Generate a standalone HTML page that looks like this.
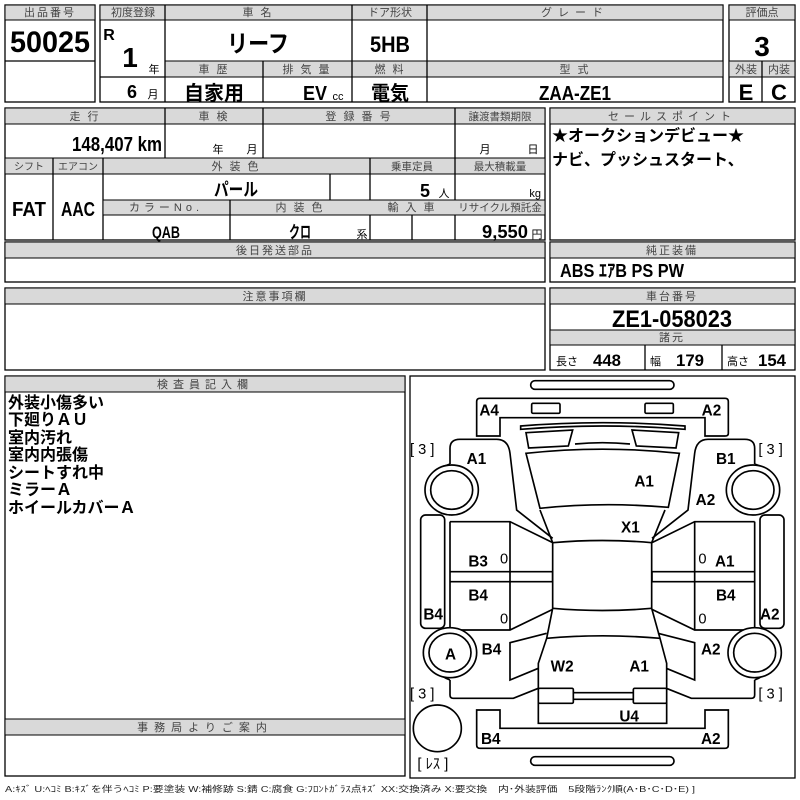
<!DOCTYPE html>
<html><head><meta charset="utf-8"><style>
body{margin:0;background:#fff}
svg{display:block}
.h{fill:#d9d9d9;stroke:#000;stroke-width:1}
.b{fill:none;stroke:#000;stroke-width:1.3}
.t{font-family:"Liberation Sans","Noto Sans CJK JP",sans-serif;font-size:11px;fill:#444;text-anchor:middle;letter-spacing:2px}
.v{font-family:"Liberation Sans","Noto Sans CJK JP",sans-serif;font-weight:bold;fill:#000;text-anchor:middle}
.s{font-family:"Liberation Sans","Noto Sans CJK JP",sans-serif;font-size:11px;fill:#000;text-anchor:middle}
.j{font-family:"Liberation Sans","Noto Sans CJK JP",sans-serif;font-weight:bold;font-size:16px;fill:#000}
.d{fill:#fff;stroke:#000;stroke-width:5}
.dl{fill:none;stroke:#000;stroke-width:5}
.dt{font-family:"Liberation Sans","Noto Sans CJK JP",sans-serif;font-weight:bold;font-size:46px;fill:#000}
.db{font-family:"Liberation Sans","Noto Sans CJK JP",sans-serif;font-size:44px;fill:#000}
</style></head><body>
<svg width="800" height="800" viewBox="0 0 800 800" xmlns="http://www.w3.org/2000/svg">
<!-- Box1 -->
<rect class="b" x="5" y="5" width="90" height="97"/>
<rect class="h" x="5" y="5" width="90" height="15"/>
<line class="b" x1="5" y1="61" x2="95" y2="61"/>
<text class="t" x="50" y="16">出品番号</text>
<text class="v" x="50" y="52" font-size="30" textLength="80" lengthAdjust="spacingAndGlyphs">50025</text>
<!-- Box2 -->
<rect class="b" x="100" y="5" width="623" height="97"/>
<rect class="h" x="100" y="5" width="623" height="15"/>
<rect class="h" x="165" y="61" width="558" height="16"/>
<line class="b" x1="165" y1="5" x2="165" y2="102"/>
<line class="b" x1="352" y1="5" x2="352" y2="102"/>
<line class="b" x1="427" y1="5" x2="427" y2="102"/>
<line class="b" x1="263" y1="61" x2="263" y2="102"/>
<line class="b" x1="100" y1="77" x2="165" y2="77"/>
<text class="t" x="133" y="16" style="letter-spacing:0">初度登録</text>
<text class="t" x="258" y="16">車 名</text>
<text class="t" x="390" y="16" style="letter-spacing:0">ドア形状</text>
<text class="t" x="575" y="16" style="letter-spacing:6px">グレード</text>
<text class="v" x="109" y="40" font-size="16">R</text>
<text class="v" x="130" y="67" font-size="28">1</text>
<text class="s" x="154" y="73">年</text>
<text class="v" x="132" y="98" font-size="18">6</text>
<text class="s" x="153" y="98">月</text>
<text class="v" x="258" y="52" font-size="24" textLength="62" lengthAdjust="spacingAndGlyphs">リーフ</text>
<text class="v" x="390" y="52" font-size="22" textLength="40" lengthAdjust="spacingAndGlyphs">5HB</text>
<text class="t" x="214" y="73">車 歴</text>
<text class="t" x="307" y="73">排 気 量</text>
<text class="t" x="390" y="73">燃 料</text>
<text class="t" x="575" y="73">型 式</text>
<text class="v" x="214" y="100" font-size="20" textLength="60" lengthAdjust="spacingAndGlyphs">自家用</text>
<text class="v" x="315" y="100" font-size="20" textLength="24" lengthAdjust="spacingAndGlyphs">EV</text>
<text class="s" x="338" y="100" font-size="10">cc</text>
<text class="v" x="390" y="100" font-size="20" textLength="38" lengthAdjust="spacingAndGlyphs">電気</text>
<text class="v" x="575" y="100" font-size="20" textLength="72" lengthAdjust="spacingAndGlyphs">ZAA-ZE1</text>
<!-- Box3 -->
<rect class="b" x="729" y="5" width="66" height="97"/>
<rect class="h" x="729" y="5" width="66" height="15"/>
<rect class="h" x="729" y="61" width="66" height="16"/>
<line class="b" x1="762" y1="61" x2="762" y2="102"/>
<text class="t" x="762" y="16" style="letter-spacing:0">評価点</text>
<text class="v" x="762" y="56" font-size="28">3</text>
<text class="t" x="746" y="73" style="letter-spacing:0">外装</text>
<text class="t" x="779" y="73" style="letter-spacing:0">内装</text>
<text class="v" x="746" y="100" font-size="22">E</text>
<text class="v" x="779" y="100" font-size="22">C</text>
<!-- Box4 -->
<rect class="b" x="5" y="108" width="540" height="132"/>
<rect class="h" x="5" y="108" width="540" height="16"/>
<line class="b" x1="165" y1="108" x2="165" y2="158"/>
<line class="b" x1="263" y1="108" x2="263" y2="158"/>
<line class="b" x1="455" y1="108" x2="455" y2="158"/>
<text class="t" x="85" y="120">走 行</text>
<text class="t" x="214" y="120">車 検</text>
<text class="t" x="359" y="120">登 録 番 号</text>
<text class="t" x="500" y="120" style="letter-spacing:0;font-size:10.5px">譲渡書類期限</text>
<text class="v" x="162" y="151" font-size="20" style="text-anchor:end" textLength="90" lengthAdjust="spacingAndGlyphs">148,407 km</text>
<text class="s" x="218" y="153">年</text>
<text class="s" x="252" y="153">月</text>
<text class="s" x="485" y="153">月</text>
<text class="s" x="533" y="153">日</text>
<rect class="h" x="5" y="158" width="540" height="16"/>
<line class="b" x1="53" y1="158" x2="53" y2="240"/>
<line class="b" x1="103" y1="158" x2="103" y2="240"/>
<line class="b" x1="370" y1="158" x2="370" y2="240"/>
<line class="b" x1="455" y1="158" x2="455" y2="240"/>
<line class="b" x1="330" y1="174" x2="330" y2="200"/>
<text class="t" x="29" y="170" style="letter-spacing:0;font-size:10px">シフト</text>
<text class="t" x="78" y="170" style="letter-spacing:0;font-size:10px">エアコン</text>
<text class="t" x="236" y="170">外 装 色</text>
<text class="t" x="412" y="170" style="letter-spacing:0;font-size:10.5px">乗車定員</text>
<text class="t" x="500" y="170" style="letter-spacing:0;font-size:10.5px">最大積載量</text>
<text class="v" x="236" y="196" font-size="18" textLength="44" lengthAdjust="spacingAndGlyphs">パール</text>
<text class="v" x="425" y="197" font-size="18">5</text>
<text class="s" x="444" y="197">人</text>
<text class="s" x="541" y="197" style="text-anchor:end">kg</text>
<rect class="h" x="103" y="200" width="442" height="15"/>
<line class="b" x1="230" y1="200" x2="230" y2="240"/>
<line class="b" x1="412" y1="215" x2="412" y2="240"/>
<text class="t" x="166" y="211" style="letter-spacing:4px">カラーNo.</text>
<text class="t" x="300" y="211">内 装 色</text>
<text class="t" x="412" y="211">輸 入 車</text>
<text class="t" x="500" y="211" style="letter-spacing:0;font-size:10.5px">リサイクル預託金</text>
<text class="v" x="166" y="238" font-size="17" textLength="28" lengthAdjust="spacingAndGlyphs">QAB</text>
<text class="v" x="300" y="238" font-size="17" textLength="22" lengthAdjust="spacingAndGlyphs">クロ</text>
<text class="s" x="362" y="238">系</text>
<text class="v" x="528" y="238" font-size="18" style="text-anchor:end" textLength="46" lengthAdjust="spacingAndGlyphs">9,550</text>
<text class="s" x="537" y="238">円</text>
<text class="v" x="29" y="216" font-size="20" textLength="34" lengthAdjust="spacingAndGlyphs">FAT</text>
<text class="v" x="78" y="216" font-size="20" textLength="34" lengthAdjust="spacingAndGlyphs">AAC</text>
<!-- Sales point -->
<rect class="b" x="550" y="108" width="245" height="132"/>
<rect class="h" x="550" y="108" width="245" height="16"/>
<text class="t" x="672" y="120" style="letter-spacing:5px">セールスポイント</text>
<text class="j" x="552" y="141" font-size="15">★オークションデビュー★</text>
<text class="j" x="552" y="165" font-size="15">ナビ、プッシュスタート、</text>
<!-- 後日 -->
<rect class="b" x="5" y="242" width="540" height="40"/>
<rect class="h" x="5" y="242" width="540" height="16"/>
<text class="t" x="275" y="254">後日発送部品</text>
<rect class="b" x="550" y="242" width="245" height="40"/>
<rect class="h" x="550" y="242" width="245" height="16"/>
<text class="t" x="672" y="254">純正装備</text>
<text class="v" x="560" y="277" font-size="18" style="text-anchor:start" textLength="124" lengthAdjust="spacingAndGlyphs">ABS ｴｱB PS PW</text>
<!-- 注意 -->
<rect class="b" x="5" y="288" width="540" height="82"/>
<rect class="h" x="5" y="288" width="540" height="16"/>
<text class="t" x="275" y="300">注意事項欄</text>
<rect class="b" x="550" y="288" width="245" height="82"/>
<rect class="h" x="550" y="288" width="245" height="16"/>
<rect class="h" x="550" y="330" width="245" height="15"/>
<line class="b" x1="645" y1="345" x2="645" y2="370"/>
<line class="b" x1="722" y1="345" x2="722" y2="370"/>
<text class="t" x="672" y="300">車台番号</text>
<text class="v" x="672" y="327" font-size="24" textLength="120" lengthAdjust="spacingAndGlyphs">ZE1-058023</text>
<text class="t" x="672" y="341">諸元</text>
<text class="s" x="556" y="365" style="text-anchor:start">長さ</text>
<text class="v" x="607" y="366" font-size="17" textLength="28" lengthAdjust="spacingAndGlyphs">448</text>
<text class="s" x="650" y="365" style="text-anchor:start">幅</text>
<text class="v" x="690" y="366" font-size="17" textLength="28" lengthAdjust="spacingAndGlyphs">179</text>
<text class="s" x="727" y="365" style="text-anchor:start">高さ</text>
<text class="v" x="772" y="366" font-size="17" textLength="28" lengthAdjust="spacingAndGlyphs">154</text>
<!-- inspector -->
<rect class="b" x="5" y="376" width="400" height="400"/>
<rect class="h" x="5" y="376" width="400" height="16"/>
<text class="t" x="205" y="388" style="letter-spacing:5px">検査員記入欄</text>
<text class="j" x="8" y="408">外装小傷多い</text>
<text class="j" x="8" y="425">下廻りＡＵ</text>
<text class="j" x="8" y="443">室内汚れ</text>
<text class="j" x="8" y="460">室内内張傷</text>
<text class="j" x="8" y="478">シートすれ中</text>
<text class="j" x="8" y="495">ミラーＡ</text>
<text class="j" x="8" y="513">ホイールカバーＡ</text>
<rect class="h" x="5" y="719" width="400" height="16"/>
<text class="t" x="205" y="731" style="letter-spacing:6px">事務局よりご案内</text>
<!-- diagram -->
<rect class="b" x="410" y="376" width="385" height="402"/>
<g transform="translate(400,370) scale(0.33333)">
<rect class="d" x="392" y="32" width="430" height="26" rx="13"/>
<rect class="d" x="392" y="1160" width="430" height="26" rx="13"/>
<path class="d" d="M230,198 L230,95 Q230,85 240,85 L975,85 Q985,85 985,95 L985,190 Q985,198 975,198 L915,198 L915,143 L300,143 L300,198 Z"/>
<path class="d" d="M230,1020 L300,1020 L300,1075 L915,1075 L915,1020 L985,1020 L985,1125 Q985,1135 975,1135 L240,1135 Q230,1135 230,1125 Z"/>
<rect class="d" x="395" y="100" width="85" height="30" rx="4"/>
<rect class="d" x="735" y="100" width="85" height="30" rx="4"/>
<path class="d" d="M362,168 Q607,148 855,168 L855,178 Q607,158 362,178 Z"/>
<path class="d" d="M378,188 L518,180 L505,228 L386,234 Z"/>
<path class="d" d="M696,180 L836,188 L828,234 L709,228 Z"/>
<path class="dl" d="M525,222 Q607,214 690,222"/>
<path class="d" d="M378,250 Q607,225 838,250 L805,412 Q607,395 420,415 Z"/>
<path class="dl" d="M420,420 L458,518 L458,715 L440,805 L415,880 L415,1060 L800,1060 L800,880 L780,805 L755,715 L755,518 L795,420"/>
<path class="dl" d="M458,518 Q607,505 755,518 M458,715 Q607,728 755,715 M440,805 Q607,790 780,805"/>
<rect class="d" x="415" y="955" width="105" height="45" rx="4"/>
<rect class="d" x="700" y="955" width="100" height="45" rx="4"/>
<path class="dl" d="M520,968 L700,968 M520,988 L700,988"/>
<g id="side">
<path class="dl" d="M150,282 L150,235 Q150,208 180,208 L290,208 Q325,208 330,250 L350,420 L458,505"/>
<path class="dl" d="M150,282 A85,80 0 0 0 150,435"/>
<path class="dl" d="M150,455 L330,455 L458,518 M150,455 L150,780 L330,780 L458,718 M150,605 L458,605 L458,635 L150,635 M330,455 L330,780"/>
<rect class="d" x="62" y="435" width="72" height="340" rx="15"/>
<path class="dl" d="M440,790 L330,818 L330,930 L415,895"/>
<path class="dl" d="M150,930 L150,975 Q150,985 160,985 L340,985 L415,955"/>
<path class="dl" d="M150,780 A85,80 0 0 0 150,930"/>
<ellipse class="d" cx="155" cy="360" rx="80" ry="75"/>
<ellipse class="d" cx="155" cy="360" rx="63" ry="58"/>
<ellipse class="d" cx="150" cy="848" rx="80" ry="75"/>
<ellipse class="d" cx="150" cy="848" rx="63" ry="58"/>
</g>
<use href="#side" transform="matrix(-1,0,0,1,1214,0)"/>
<ellipse class="d" cx="112" cy="1075" rx="72" ry="70"/>
<text class="dt" x="238" y="137">A4</text>
<text class="dt" x="905" y="137">A2</text>
<text class="db" x="30" y="252">[ 3 ]</text>
<text class="db" x="1075" y="252">[ 3 ]</text>
<text class="dt" x="200" y="282">A1</text>
<text class="dt" x="948" y="282">B1</text>
<text class="dt" x="703" y="350">A1</text>
<text class="dt" x="887" y="405">A2</text>
<text class="dt" x="663" y="488">X1</text>
<text class="dt" x="205" y="590">B3</text>
<text class="db" x="300" y="580" font-size="36">0</text>
<text class="db" x="895" y="580" font-size="36">0</text>
<text class="dt" x="945" y="590">A1</text>
<text class="dt" x="205" y="692">B4</text>
<text class="dt" x="948" y="692">B4</text>
<text class="dt" x="70" y="748">B4</text>
<text class="dt" x="1080" y="748">A2</text>
<text class="db" x="300" y="760" font-size="36">0</text>
<text class="db" x="895" y="760" font-size="36">0</text>
<text class="dt" x="135" y="868">A</text>
<text class="dt" x="245" y="853">B4</text>
<text class="dt" x="903" y="853">A2</text>
<text class="dt" x="452" y="905">W2</text>
<text class="dt" x="688" y="905">A1</text>
<text class="db" x="30" y="985">[ 3 ]</text>
<text class="db" x="1075" y="985">[ 3 ]</text>
<text class="dt" x="658" y="1055">U4</text>
<text class="dt" x="243" y="1122">B4</text>
<text class="dt" x="903" y="1122">A2</text>
<text class="db" x="52" y="1195">[ ﾚｽ ]</text>
</g>
<text x="5" y="792" font-family="Liberation Sans,'Noto Sans CJK JP',sans-serif" font-size="8.5" fill="#222" textLength="690" lengthAdjust="spacingAndGlyphs">A:ｷｽﾞ U:ﾍｺﾐ B:ｷｽﾞを伴うﾍｺﾐ P:要塗装 W:補修跡 S:錆 C:腐食 G:ﾌﾛﾝﾄｶﾞﾗｽ点ｷｽﾞ XX:交換済み X:要交換　内･外装評価　5段階ﾗﾝｸ順(A･B･C･D･E) ]</text>
</svg>
</body></html>
